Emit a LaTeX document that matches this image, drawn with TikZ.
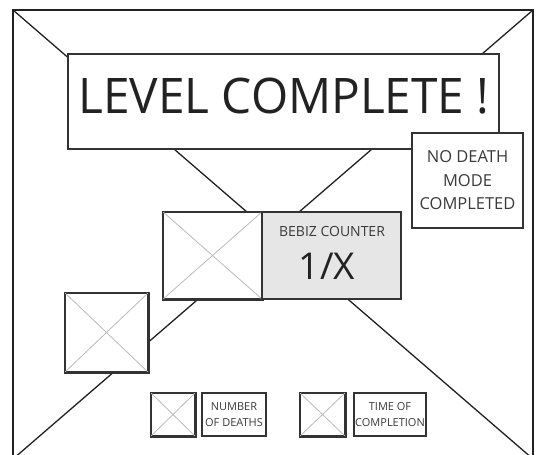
\documentclass[tikz,border=0pt]{standalone}
\usepackage{fontspec}
\usepackage{graphicx}
\setmainfont{Open Sans}
\definecolor{ink}{HTML}{222222}
\definecolor{boxline}{HTML}{333333}
\definecolor{txt}{HTML}{3A3A3A}
\definecolor{cross}{HTML}{BBBBBB}
\definecolor{panel}{HTML}{E6E6E6}
\begin{document}
\begin{tikzpicture}[x=1pt,y=-1pt,
  frameline/.style={draw=ink, line width=1.3pt},
  box/.style={draw=boxline, line width=1.5pt, fill=white, rectangle, inner sep=0pt, align=center, text=txt},
  crossline/.style={draw=cross, line width=0.8pt},
  ]
\clip (0,0) rectangle (536,455);
\fill[white] (0,0) rectangle (536,455);
\coordinate (tl) at (13,10);
\coordinate (tr) at (533,10);
\coordinate (bl) at (13,459);
\coordinate (br) at (533,459);
\draw[frameline] (tl) rectangle (br);
\draw[frameline] (tl) -- (br);
\draw[frameline] (tr) -- (bl);

% title
\node[box, minimum width=431pt, minimum height=95pt] (title) at (283.5,101.5) {};
\node[text=ink, font=\fontsize{49}{55}\selectfont, inner sep=0pt, anchor=base] (titletext) at (284,113) {\scalebox{0.975}[1]{LEVEL COMPLETE !}};
% no death
\node[box, minimum width=111pt, minimum height=95pt, font=\fontsize{16.5}{23.5}\selectfont] (nodeath) at (467.5,180.5) {NO DEATH\\MODE\\COMPLETED};

% counter
\node[box, minimum width=99pt, minimum height=87pt] (cimg) at (212.5,255.5) {};
\draw[crossline] (cimg.north west) -- (cimg.south east) (cimg.north east) -- (cimg.south west);
\draw[boxline, line width=1.5pt] (cimg.north west) rectangle (cimg.south east);
\node[box, fill=panel, minimum width=139pt, minimum height=87pt] (counter) at (331.5,255.5) {};
\node[text=txt, font=\fontsize{14}{16}\selectfont, inner sep=0pt] (ctitle) at (332,231) {BEBIZ COUNTER};
\node[text=ink, font=\fontsize{37}{40}\selectfont, inner sep=0pt] (cval) at (327,266) {1/X};

% side image
\node[box, minimum width=83pt, minimum height=79pt] (simg) at (106.5,332.5) {};
\draw[crossline] (simg.north west) -- (simg.south east) (simg.north east) -- (simg.south west);
\draw[boxline, line width=1.5pt] (simg.north west) rectangle (simg.south east);

% bottom stats
\node[box, minimum width=44pt, minimum height=43pt] (dimg) at (173,414.5) {};
\draw[crossline] (dimg.north west) -- (dimg.south east) (dimg.north east) -- (dimg.south west);
\draw[boxline, line width=1.5pt] (dimg.north west) rectangle (dimg.south east);
\node[box, minimum width=64pt, minimum height=43pt, font=\fontsize{11}{16}\selectfont] (deaths) at (234,414.5) {NUMBER\\OF DEATHS};

\node[box, minimum width=45pt, minimum height=43pt] (timg) at (322.5,414.5) {};
\draw[crossline] (timg.north west) -- (timg.south east) (timg.north east) -- (timg.south west);
\draw[boxline, line width=1.5pt] (timg.north west) rectangle (timg.south east);
\node[box, minimum width=72pt, minimum height=43pt, font=\fontsize{11}{16}\selectfont] (time) at (390,414.5) {TIME OF\\COMPLETION};
\end{tikzpicture}
\end{document}
